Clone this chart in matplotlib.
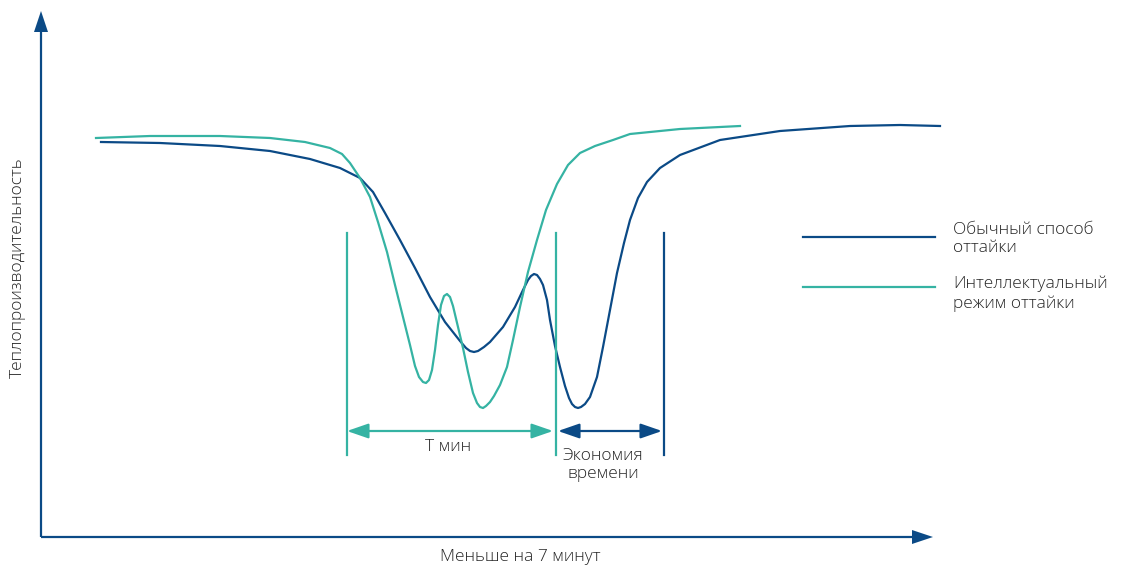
import matplotlib.pyplot as plt

# colours
NAVY = "#0b4a86"
TEAL = "#35b3a3"
TXT = "#262626"

# curves (pixel coords, y grows downwards)
usual_x = [101, 160, 220, 270, 310, 340, 360, 373, 385, 400, 415, 430, 445, 460, 466, 470, 474, 478, 484, 490, 503, 515, 523,
           528, 531, 534, 537, 540, 543, 547, 550, 555, 560, 565, 569, 572, 575, 578, 581, 585, 590, 597, 603, 610, 617,
           624, 630, 638, 647, 660, 680, 720, 780, 850, 900, 940]
usual_y = [142, 143, 146, 151, 159, 168, 178, 192, 213, 240, 268, 297, 322, 341, 348, 351, 352, 351, 347, 342, 327, 307, 290,
           280, 276, 274, 275, 279, 285, 300, 320, 346, 367, 386, 398, 404, 407, 408, 407, 404, 397, 377, 347, 310, 273,
           243, 220, 198, 182, 168, 155, 140, 131, 126, 125, 126]

smart_x = [96, 150, 220, 270, 305, 330, 342, 350, 360, 370, 378, 387, 395, 403, 410, 415, 419, 423, 426, 429, 432, 435, 438,
           441, 444, 447, 450, 453, 458, 463, 468, 473, 477, 480, 483, 486, 490, 494, 500, 507, 513, 520, 528, 537, 546,
           557, 568, 580, 595, 613, 630, 680, 740]
smart_y = [138, 136, 136, 138, 142, 148, 154, 163, 178, 197, 222, 252, 285, 317, 345, 366, 377, 382, 383, 380, 370, 350, 325,
           305, 296, 294, 297, 306, 327, 348, 372, 393, 403, 407, 408, 406, 402, 396, 385, 367, 340, 307, 272, 240, 210,
           184, 165, 153, 146, 140, 134, 129, 126]

legend_labels = ["Обычный способ\nоттайки", "Интеллектуальный\nрежим оттайки"]
y_label = "Теплопроизводительность"
x_label = "Меньше на 7 минут"
t_label = "Т мин"
save_label = "Экономия\nвремени"

plt.rcParams["font.family"] = ["Open Sans", "DejaVu Sans"]
FS = 12.5
FW = "light"

fig = plt.figure(figsize=(11.44, 5.68), dpi=100)
ax = fig.add_axes([0, 0, 1, 1])
ax.set_xlim(0, 1144)
ax.set_ylim(568, 0)
ax.axis("off")

LW = 1.6

# axes with arrows
ax.plot([41, 41], [537, 28], color=NAVY, lw=LW, solid_capstyle="butt")
ax.plot([41, 915], [537, 537], color=NAVY, lw=LW, solid_capstyle="butt")
ax.fill([34, 48, 41], [32, 32, 11], color=NAVY, lw=0)
ax.fill([912, 912, 933], [530, 544, 537], color=NAVY, lw=0)

# curves
ax.plot(usual_x, usual_y, color=NAVY, lw=LW, solid_joinstyle="round")
ax.plot(smart_x, smart_y, color=TEAL, lw=LW, solid_joinstyle="round")

# markers for time intervals
ax.plot([347, 347], [233, 455], color=TEAL, lw=LW)
ax.plot([556, 556], [233, 455], color=TEAL, lw=LW)
ax.plot([664, 664], [233, 455], color=NAVY, lw=LW)

ax.annotate("", xy=(347, 431), xytext=(553, 431),
            arrowprops=dict(arrowstyle="<|-|>,head_length=1.3,head_width=0.45", color=TEAL, lw=LW,
                            shrinkA=0, shrinkB=0))
ax.annotate("", xy=(558, 431), xytext=(662, 431),
            arrowprops=dict(arrowstyle="<|-|>,head_length=1.3,head_width=0.45", color=NAVY, lw=LW,
                            shrinkA=0, shrinkB=0))

ax.text(448, 447, t_label, ha="center", va="center", fontsize=FS, fontweight=FW, color=TXT)
ax.text(603, 465, save_label, ha="center", va="center", fontsize=FS, fontweight=FW, color=TXT, linespacing=1.25)

# legend
ax.plot([803, 935], [237, 237], color=NAVY, lw=LW)
ax.plot([803, 935], [287, 287], color=TEAL, lw=LW)
ax.text(953, 239, legend_labels[0], ha="left", va="center", fontsize=FS, fontweight=FW, color=TXT, linespacing=1.25)
ax.text(953, 294, legend_labels[1], ha="left", va="center", fontsize=FS, fontweight=FW, color=TXT, linespacing=1.25)

# axis labels
ax.text(18, 268, y_label, ha="center", va="center", rotation=90, fontsize=FS, fontweight=FW, color=TXT)
ax.text(520, 557, x_label, ha="center", va="center", fontsize=FS, fontweight=FW, color=TXT)

fig.savefig("out.png", dpi=100)
